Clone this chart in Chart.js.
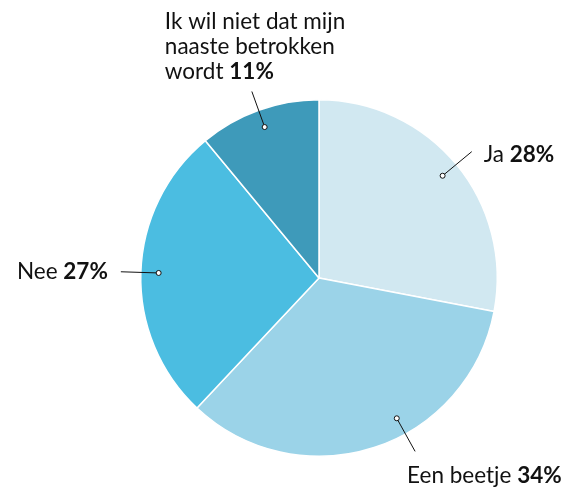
<!DOCTYPE html>
<html>
<head>
<meta charset="utf-8">
<script src="https://cdn.jsdelivr.net/npm/chart.js@4.4.1/dist/chart.umd.min.js"></script>
<style>
  body { margin: 0; background: #fff; }
  canvas { display: block; }
</style>
</head>
<body>
<canvas id="pieChart" width="571" height="488"></canvas>
<script>
// answers + share in percent
const labels = ['Ja', 'Een beetje', 'Nee', 'Ik wil niet dat mijn naaste betrokken wordt'];
const values = [28, 34, 27, 11];
const colors = ['#d1e8f1', '#9bd3e8', '#4bbde1', '#3e9aba'];

// how each label is drawn (text lines, side, small angle shift of the dot)
const labelLayout = [
  { lines: ['Ja'], align: 'left', dx: 12, dy: 3, shift: 0 },
  { lines: ['Een beetje'], align: 'left', dx: -8, dy: 24, shift: -11 },
  { lines: ['Nee'], align: 'right', dx: -13, dy: 0, shift: 0 },
  { lines: ['Ik wil niet dat mijn', 'naaste betrokken', 'wordt'], align: 'left', dx: -87, dy: -70, shift: 0 }
];

const FONT = 'Lato, "Open Sans", sans-serif';
const SIZE = 22.5;

const leaderLabels = {
  id: 'leaderLabels',
  afterDraw(chart) {
    const ctx = chart.ctx;
    const meta = chart.getDatasetMeta(0);
    meta.data.forEach((arc, i) => {
      const lay = labelLayout[i];
      const mid = (arc.startAngle + arc.endAngle) / 2 + lay.shift * Math.PI / 180;
      const R = arc.outerRadius;
      const x1 = arc.x + Math.cos(mid) * R * 0.9;
      const y1 = arc.y + Math.sin(mid) * R * 0.9;
      const x2 = arc.x + Math.cos(mid) * (R + 20);
      const y2 = arc.y + Math.sin(mid) * (R + 20);

      ctx.save();
      ctx.strokeStyle = '#111';
      ctx.lineWidth = 1;
      ctx.beginPath();
      ctx.moveTo(x1, y1);
      ctx.lineTo(x2, y2);
      ctx.stroke();
      ctx.beginPath();
      ctx.arc(x1, y1, 2.5, 0, Math.PI * 2);
      ctx.fillStyle = '#fff';
      ctx.fill();
      ctx.stroke();

      // text
      ctx.fillStyle = '#111';
      ctx.textBaseline = 'middle';
      const lineH = 25;
      const pct = values[i] + '%';
      lay.lines.forEach((line, j) => {
        const last = j === lay.lines.length - 1;
        const ty = y2 + lay.dy + j * lineH;
        let tx = x2 + lay.dx;
        ctx.font = SIZE + 'px ' + FONT;
        const w1 = ctx.measureText(last ? line + ' ' : line).width;
        ctx.font = 'bold ' + SIZE + 'px ' + FONT;
        const w2 = last ? ctx.measureText(pct).width : 0;
        if (lay.align === 'right') tx -= (w1 + w2);
        ctx.textAlign = 'left';
        ctx.font = SIZE + 'px ' + FONT;
        ctx.fillText(last ? line + ' ' : line, tx, ty);
        if (last) {
          ctx.font = 'bold ' + SIZE + 'px ' + FONT;
          ctx.fillText(pct, tx + w1, ty);
        }
      });
      ctx.restore();
    });
  }
};

const data = {
  labels: labels,
  datasets: [{
    data: values,
    backgroundColor: colors,
    borderColor: '#fff',
    borderWidth: 1.5
  }]
};

const config = {
  type: 'pie',
  data: data,
  options: {
    responsive: false,
    animation: false,
    layout: { padding: { left: 140, right: 73, top: 99, bottom: 31 } },
    plugins: {
      legend: { display: false },
      tooltip: { enabled: false }
    }
  },
  plugins: [leaderLabels]
};

const myChart = new Chart(document.getElementById('pieChart'), config);
</script>
</body>
</html>
